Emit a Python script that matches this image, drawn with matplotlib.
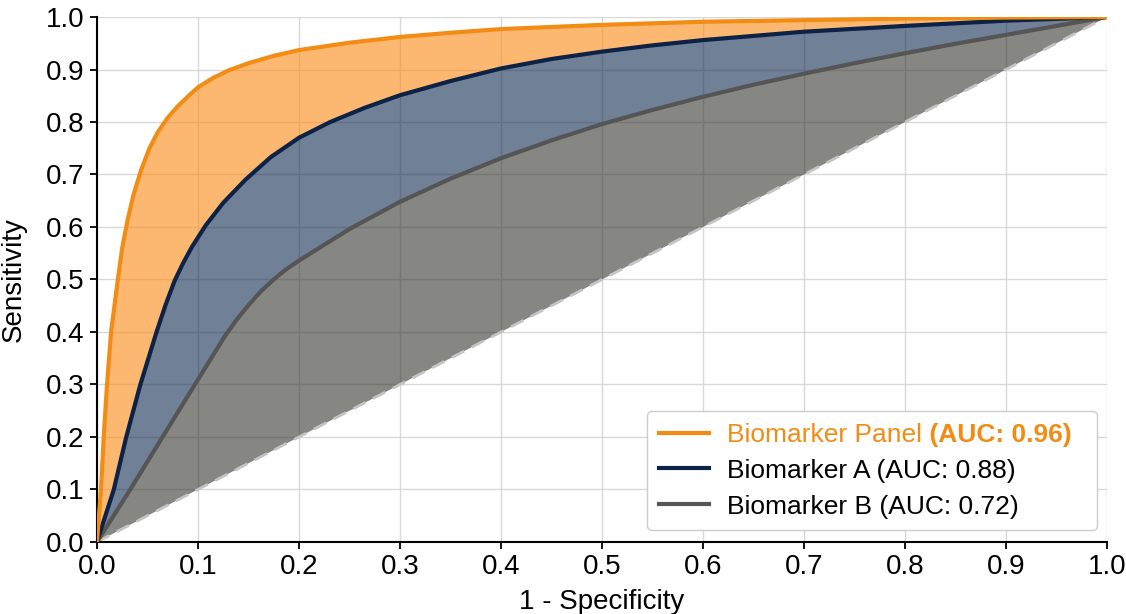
import numpy as np
import matplotlib
matplotlib.use("Agg")
import matplotlib.pyplot as plt

plt.rcParams['font.family'] = ['Liberation Sans', 'DejaVu Sans']

# ROC points (1 - specificity, sensitivity)
panel_fpr = [0, 0.004, 0.0067, 0.010, 0.014, 0.0207, 0.025, 0.03, 0.036, 0.044, 0.052,
             0.06, 0.07, 0.08, 0.092, 0.1, 0.115, 0.13, 0.15, 0.175, 0.2, 0.25, 0.3,
             0.35, 0.4, 0.5, 0.6, 0.7, 0.8, 0.9, 1.0]
panel_tpr = [0, 0.1, 0.2, 0.3, 0.4, 0.5, 0.56, 0.61, 0.66, 0.71, 0.75,
             0.78, 0.808, 0.83, 0.852, 0.866, 0.884, 0.898, 0.912, 0.926, 0.937, 0.951, 0.962,
             0.970, 0.977, 0.985, 0.991, 0.994, 0.997, 0.999, 1.0]

a_fpr = [0, 0.0167, 0.029, 0.043, 0.059, 0.068, 0.077, 0.085, 0.094, 0.108, 0.125, 0.147,
         0.172, 0.2, 0.231, 0.265, 0.3, 0.35, 0.4, 0.45, 0.5, 0.55, 0.6, 0.7, 0.8, 0.9, 1.0]
a_tpr = [0, 0.1, 0.2, 0.3, 0.4, 0.452, 0.498, 0.53, 0.562, 0.604, 0.646, 0.69,
         0.733, 0.77, 0.80, 0.827, 0.851, 0.878, 0.902, 0.92, 0.934, 0.946, 0.956, 0.972,
         0.983, 0.993, 1.0]

b_fpr = [0, 0.033, 0.065, 0.097, 0.127, 0.139, 0.15, 0.162, 0.175, 0.187, 0.2, 0.25,
         0.3, 0.35, 0.4, 0.45, 0.5, 0.55, 0.6, 0.65, 0.7, 0.75, 0.8, 0.85, 0.9, 0.95, 1.0]
b_tpr = [0, 0.1, 0.2, 0.3, 0.393, 0.425, 0.451, 0.477, 0.5, 0.519, 0.536, 0.596,
         0.648, 0.692, 0.731, 0.765, 0.796, 0.823, 0.848, 0.871, 0.892, 0.912, 0.931,
         0.949, 0.966, 0.983, 1.0]

chance = [0, 1]

labels = ["Biomarker Panel", "Biomarker A (AUC: 0.88)", "Biomarker B (AUC: 0.72)"]
panel_auc = "(AUC: 0.96)"

c_panel = '#f28c14'
c_a = '#0c2246'
c_b = '#555555'

fig = plt.figure(figsize=(11.26, 6.14), dpi=100)
ax = fig.add_axes([0.0861, 0.1173, 0.897, 0.855])

ax.grid(True, color='#d8d8d8', linewidth=1.0)
ax.set_axisbelow(True)


def band(x1, y1, x2, y2):
    # polygon between two curves
    xs = np.concatenate([np.asarray(x1), np.asarray(x2)[::-1]])
    ys = np.concatenate([np.asarray(y1), np.asarray(y2)[::-1]])
    return xs, ys


xs, ys = band(panel_fpr, panel_tpr, a_fpr, a_tpr)
ax.fill(xs, ys, color='#fb8a12', alpha=0.6, lw=0, zorder=1)
xs, ys = band(a_fpr, a_tpr, b_fpr, b_tpr)
ax.fill(xs, ys, color='#112b50', alpha=0.6, lw=0, zorder=1)
xs, ys = band(b_fpr, b_tpr, chance, chance)
ax.fill(xs, ys, color='#35352f', alpha=0.6, lw=0, zorder=1)

ax.plot(chance, chance, '--', color='#c4c4c4', lw=2, dashes=(5, 3), zorder=2)
ax.plot(b_fpr, b_tpr, color=c_b, lw=3, label=labels[2], zorder=3)
ax.plot(a_fpr, a_tpr, color=c_a, lw=3, label=labels[1], zorder=4)
ax.plot(panel_fpr, panel_tpr, color=c_panel, lw=3,
        label=labels[0] + " " + panel_auc, zorder=5)

ax.set_xlim(0, 1)
ax.set_ylim(0, 1)
ticks = np.round(np.arange(0, 1.01, 0.1), 1)
ax.set_xticks(ticks)
ax.set_yticks(ticks)
ax.set_xticklabels([f"{t:.1f}" for t in ticks])
ax.set_yticklabels([f"{t:.1f}" for t in ticks])
ax.tick_params(labelsize=20, length=5, width=1.3, color='black', pad=4)

for s in ['top', 'right']:
    ax.spines[s].set_visible(False)
for s in ['left', 'bottom']:
    ax.spines[s].set_linewidth(1.5)
    ax.spines[s].set_color('black')

ax.set_xlabel("1 - Specificity", fontsize=20, labelpad=6)
ax.set_ylabel("Sensitivity", fontsize=20, labelpad=14)

handles, lbls = ax.get_legend_handles_labels()
order = [2, 1, 0]
leg = ax.legend([handles[i] for i in order], [lbls[i] for i in order],
                loc='lower right', bbox_to_anchor=(0.99, 0.022), fontsize=19,
                frameon=True, fancybox=True, framealpha=1, edgecolor='#cccccc',
                handlelength=1.9, handletextpad=0.7, labelspacing=0.45,
                borderpad=0.45, borderaxespad=0)
for h in leg.get_lines():
    h.set_linewidth(3)

# first entry: normal name + bold AUC, in orange
t0 = leg.get_texts()[0]
t0.set_fontweight('bold')
t0.set_alpha(0)
name = ax.annotate(labels[0], xy=(0, 0), xycoords=t0, va='bottom', ha='left',
                   fontsize=19, color=c_panel, annotation_clip=False, zorder=10)
ax.annotate(" " + panel_auc, xy=(1, 0), xycoords=name, va='bottom', ha='left',
            fontsize=19, color=c_panel, fontweight='bold', annotation_clip=False, zorder=10)

fig.savefig("out.png", dpi=100)
